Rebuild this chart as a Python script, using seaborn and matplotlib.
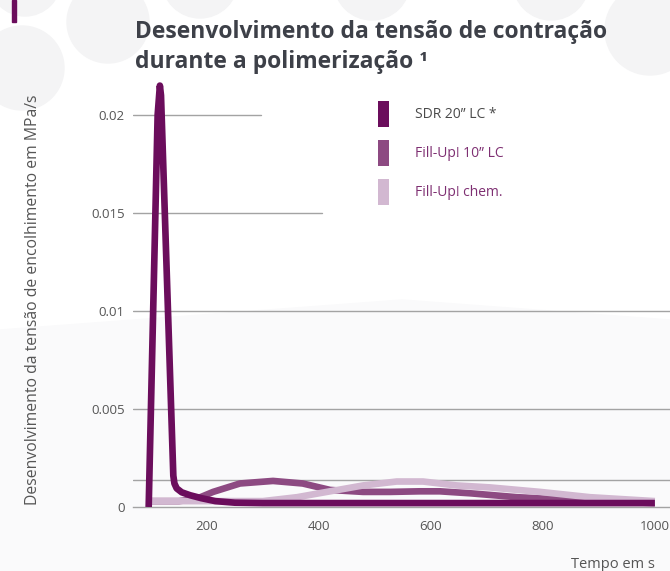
import numpy as np
import pandas as pd
import seaborn as sns
from matplotlib import pyplot as plt
from matplotlib.patches import Ellipse, Patch, Rectangle

# --- data ---
produtos = ['SDR 20\u201d LC *', 'Fill-Up! 10\u201d LC', 'Fill-Up! chem.']
cores = ['#6b0d5c', '#8d4a82', '#d2b8d1']

t_sdr = [96, 112, 116, 118, 140, 142, 146, 155, 170, 190, 215, 250, 300, 1000]
v_sdr = [0.0, 0.0200, 0.0215, 0.0210, 0.0016, 0.0012, 0.00095, 0.00075, 0.0006,
         0.00045, 0.0003, 0.00022, 0.0002, 0.0002]

t_fill10 = [100, 150, 180, 211, 259, 318, 371, 420, 479, 527, 580, 616, 670, 754, 825, 900, 1000]
v_fill10 = [0.0003, 0.0003, 0.0004, 0.00077, 0.0012, 0.00133, 0.0012, 0.00087, 0.00077,
            0.00077, 0.0008, 0.0008, 0.0007, 0.0005, 0.0004, 0.0003, 0.0002]

t_chem = [100, 200, 300, 361, 420, 479, 539, 586, 646, 705, 795, 884, 1000]
v_chem = [0.0003, 0.0003, 0.0003, 0.0005, 0.0008, 0.0011, 0.0013, 0.0013, 0.0011,
          0.001, 0.00077, 0.0005, 0.0003]

y_ticks = [0, 0.005, 0.01, 0.015, 0.02]
y_labels = ['0', '0.005', '0.01', '0.015', '0.02']
x_ticks = [200, 400, 600, 800, 1000]

titulo1 = 'Desenvolvimento da tensão de contração'
titulo2 = 'durante a polimerização \u00b9'
ylabel = 'Desenvolvimento da tensão de encolhimento em MPa/s'
xlabel = 'Tempo em s'

df = pd.concat([
    pd.DataFrame({'t': t_sdr, 'v': v_sdr, 'produto': produtos[0]}),
    pd.DataFrame({'t': t_fill10, 'v': v_fill10, 'produto': produtos[1]}),
    pd.DataFrame({'t': t_chem, 'v': v_chem, 'produto': produtos[2]}),
], ignore_index=True)

sns.set_theme(style='white')
plt.rcParams['font.family'] = ['Open Sans', 'DejaVu Sans']

W, H = 670, 571
fig = plt.figure(figsize=(W / 100, H / 100), dpi=100, facecolor='white')

# faint background decoration
lower = plt.Polygon([(0, 0), (1, 0), (1, 1 - 320 / H), (0.6, 1 - 300 / H), (0, 1 - 330 / H)],
                    closed=True, transform=fig.transFigure, color='#fafafb', zorder=0)
fig.add_artist(lower)
for cx, cy, r in [(25, -20, 36), (22, 68, 42), (108, 22, 41), (200, -20, 38),
                  (372, -18, 38), (551, -18, 38), (650, 30, 45)]:
    fig.add_artist(Ellipse((cx / W, 1 - cy / H), 2 * r / W, 2 * r / H,
                           transform=fig.transFigure, color='#f4f4f5', zorder=0))
fig.add_artist(Rectangle((12.5 / W, 1 - 22 / H), 3 / W, 22 / H,
                         transform=fig.transFigure, color='#6b0d5c', zorder=1))

ax = fig.add_axes([133 / W, 1 - 507 / H, 537 / W, 441 / H])
ax.set_facecolor('none')

# partial / full grid lines
grid_c = '#a3a3a3'
ax.axhline(0.02, xmin=0, xmax=0.238, color=grid_c, lw=1, zorder=1)
ax.axhline(0.015, xmin=0, xmax=0.352, color=grid_c, lw=1, zorder=1)
for yv in [0.01, 0.005, 0.0014]:
    ax.axhline(yv, color=grid_c, lw=1, zorder=1)

order = [produtos[1], produtos[2], produtos[0]]
for p in order:
    sub = df[df['produto'] == p]
    sns.lineplot(data=sub, x='t', y='v', ax=ax, color=cores[produtos.index(p)],
                 lw=4.8, sort=False, estimator=None, legend=False,
                 solid_joinstyle='round', solid_capstyle='butt', zorder=3)

ax.set_xlim(68, 1027)
ax.set_ylim(0, 0.0225)
ax.set_xticks(x_ticks)
ax.set_yticks(y_ticks)
ax.set_yticklabels(y_labels)
ax.tick_params(axis='both', length=0, labelsize=9.5, labelcolor='#555555')
ax.tick_params(axis='x', pad=9)
ax.tick_params(axis='y', pad=6)
ax.set_xlabel('')
ax.set_ylabel('')
for s in ['top', 'right', 'left']:
    ax.spines[s].set_visible(False)
ax.spines['bottom'].set_color(grid_c)
ax.spines['bottom'].set_linewidth(1)

handles = [Patch(facecolor=c, edgecolor='none') for c in cores]
leg = fig.legend(handles, produtos, loc='upper left', bbox_to_anchor=(372 / W, 1 - 95 / H),
                 frameon=False, fontsize=10, handlelength=0.8, handleheight=2.5,
                 handletextpad=1.9, labelspacing=0.95, borderaxespad=0)
for txt, col in zip(leg.get_texts(), ['#4a4a4a', '#7e2f72', '#7e2f72']):
    txt.set_color(col)

fig.text(135 / W, 1 - 38 / H, titulo1, fontsize=16.5, fontweight='bold',
         color='#3d4048', va='baseline', ha='left')
fig.text(135 / W, 1 - 68 / H, titulo2, fontsize=16.5, fontweight='bold',
         color='#3d4048', va='baseline', ha='left')
fig.text(33 / W, 1 - 300 / H, ylabel, rotation=90, fontsize=11.3, color='#555555',
         ha='center', va='center')
fig.text(655 / W, 1 - 568 / H, xlabel, fontsize=10.5, color='#555555',
         ha='right', va='baseline')

fig.savefig('out.png', dpi=100, facecolor=fig.get_facecolor())
